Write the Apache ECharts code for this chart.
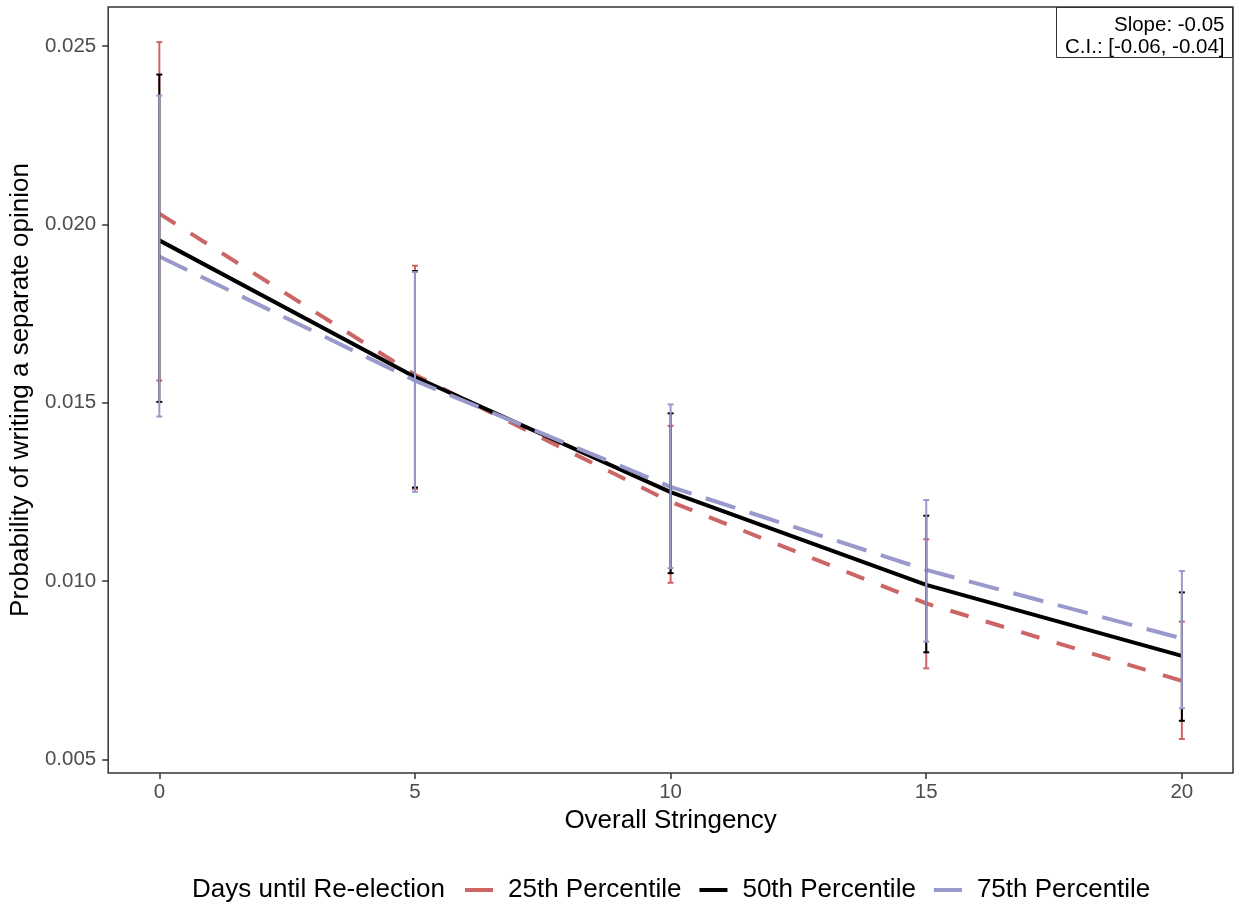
<!DOCTYPE html>
<html>
<head>
<meta charset="utf-8">
<script src="https://cdn.jsdelivr.net/npm/echarts@6/dist/echarts.min.js"></script>
<style>
  html, body { margin: 0; padding: 0; background: #fff; }
  #chart { width: 1238px; height: 909px; }
</style>
</head>
<body>
<div id="chart"></div>
<script>
// stringency values on the x axis
var stringency = [0, 5, 10, 15, 20];
var tickX = [0, 5, 10, 15, 20];
var tickY = [0.005, 0.010, 0.015, 0.020, 0.025];

// predicted probability per percentile of days until re-election
var p25 = [0.0203, 0.01578, 0.01222, 0.00937, 0.0072];
var p50 = [0.01955, 0.01572, 0.01249, 0.00989, 0.0079];
var p75 = [0.0191, 0.01562, 0.01264, 0.01031, 0.00839];

// confidence intervals
var p25Low = [0.01562, 0.01258, 0.00995, 0.00755, 0.00557];
var p25High = [0.02511, 0.01884, 0.01435, 0.01117, 0.00886];
var p50Low = [0.01502, 0.01262, 0.01022, 0.008, 0.00608];
var p50High = [0.0242, 0.01869, 0.0147, 0.01183, 0.00968];
var p75Low = [0.01461, 0.0125, 0.01036, 0.0083, 0.00643];
var p75High = [0.02361, 0.01866, 0.01495, 0.01227, 0.01028];

var names = ['25th Percentile', '50th Percentile', '75th Percentile'];
var colors = ['#CC6666', '#000000', '#9999CC'];
var font = '"Liberation Sans", Arial, Helvetica, sans-serif';

function pairs(vals) {
    return stringency.map(function (x, i) { return [x, vals[i]]; });
}

function lineSeries(name, vals, color, dash) {
    return {
        name: name,
        type: 'line',
        data: pairs(vals),
        symbol: 'none',
        color: color,
        lineStyle: { color: color, width: 4, type: dash, cap: 'butt' },
        z: 2
    };
}

function errorSeries(name, low, high, color) {
    return {
        name: name,
        type: 'custom',
        data: stringency.map(function (x, i) { return [x, low[i], high[i]]; }),
        encode: { x: 0, y: [1, 2] },
        z: 3,
        renderItem: function (params, api) {
            var x = api.value(0);
            var lo = api.coord([x, api.value(1)]);
            var hi = api.coord([x, api.value(2)]);
            var hw = 3;
            var st = { stroke: color, lineWidth: 2 };
            return {
                type: 'group',
                children: [
                    { type: 'line', shape: { x1: lo[0], y1: lo[1], x2: hi[0], y2: hi[1] }, style: st },
                    { type: 'line', shape: { x1: hi[0] - hw, y1: hi[1], x2: hi[0] + hw, y2: hi[1] }, style: st },
                    { type: 'line', shape: { x1: lo[0] - hw, y1: lo[1], x2: lo[0] + hw, y2: lo[1] }, style: st }
                ]
            };
        }
    };
}

var chart = echarts.init(document.getElementById('chart'));

var option = {
    animation: false,
    textStyle: { fontFamily: font },
    grid: {
        left: 106, top: 7, width: 1127, height: 766,
        show: true, borderColor: '#333333', borderWidth: 1.5, backgroundColor: '#fff'
    },
    xAxis: {
        type: 'value',
        min: -1, max: 21,
        name: 'Overall Stringency',
        nameLocation: 'middle',
        nameGap: 34,
        nameTextStyle: { fontSize: 26, color: '#000', fontFamily: font },
        axisLine: { show: false, onZero: false },
        splitLine: { show: false },
        axisTick: { show: true, length: 6, lineStyle: { color: '#333333', width: 1.5 }, customValues: tickX },
        axisLabel: { fontSize: 20.5, color: '#4D4D4D', margin: 9, customValues: tickX, fontFamily: font }
    },
    yAxis: {
        type: 'value',
        min: 0.004616, max: 0.026094,
        name: 'Probability of writing a separate opinion',
        nameLocation: 'middle',
        nameGap: 71,
        nameTextStyle: { fontSize: 26, color: '#000', fontFamily: font },
        axisLine: { show: false, onZero: false },
        splitLine: { show: false },
        axisTick: { show: true, length: 6, lineStyle: { color: '#333333', width: 1.5 }, customValues: tickY },
        axisLabel: {
            fontSize: 20.5, color: '#4D4D4D', margin: 12, customValues: tickY, fontFamily: font,
            formatter: function (v) { return v.toFixed(3); }
        }
    },
    title: {
        text: 'Days until Re-election',
        left: 187, top: 872,
        textStyle: { fontSize: 26, fontWeight: 'normal', color: '#000', fontFamily: font }
    },
    legend: {
        data: names,
        icon: 'rect',
        left: 460, top: 872,
        itemWidth: 28, itemHeight: 4, itemGap: 18,
        textStyle: { fontSize: 26, color: '#000', fontFamily: font, padding: [0, 0, 0, 10] }
    },
    graphic: [{
        type: 'group',
        right: 5, top: 7,
        children: [
            { type: 'rect', shape: { x: 0, y: 0, width: 176, height: 50 },
              style: { fill: '#fff', stroke: '#333333', lineWidth: 1 } },
            { type: 'text', x: 168, y: 28,
              style: { text: 'Slope: -0.05', align: 'right', verticalAlign: 'bottom', fontSize: 20.5, fill: '#000', fontFamily: font } },
            { type: 'text', x: 168, y: 50,
              style: { text: 'C.I.: [-0.06, -0.04]', align: 'right', verticalAlign: 'bottom', fontSize: 20.5, fill: '#000', fontFamily: font } }
        ]
    }],
    series: [
        lineSeries(names[0], p25, colors[0], [19, 18]),
        lineSeries(names[1], p50, colors[1], 'solid'),
        lineSeries(names[2], p75, colors[2], [31, 15]),
        errorSeries('25th CI', p25Low, p25High, colors[0]),
        errorSeries('50th CI', p50Low, p50High, colors[1]),
        errorSeries('75th CI', p75Low, p75High, colors[2])
    ]
};

chart.setOption(option);
</script>
</body>
</html>
